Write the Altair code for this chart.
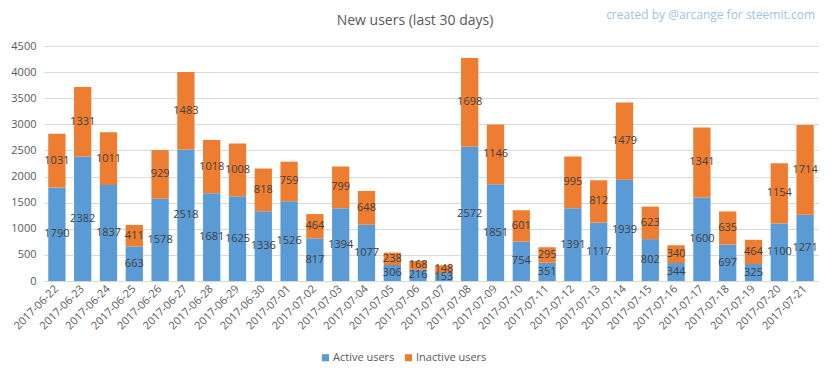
import altair as alt
import pandas as pd

dates = ["2017-06-22","2017-06-23","2017-06-24","2017-06-25","2017-06-26","2017-06-27",
         "2017-06-28","2017-06-29","2017-06-30","2017-07-01","2017-07-02","2017-07-03",
         "2017-07-04","2017-07-05","2017-07-06","2017-07-07","2017-07-08","2017-07-09",
         "2017-07-10","2017-07-11","2017-07-12","2017-07-13","2017-07-14","2017-07-15",
         "2017-07-16","2017-07-17","2017-07-18","2017-07-19","2017-07-20","2017-07-21"]
active = [1790, 2382, 1837, 663, 1578, 2518, 1681, 1625, 1336, 1526, 817, 1394,
          1077, 306, 216, 153, 2572, 1851, 754, 351, 1391, 1117, 1939, 802,
          344, 1600, 697, 325, 1100, 1271]
inactive = [1031, 1331, 1011, 411, 929, 1483, 1018, 1008, 818, 759, 464, 799,
            648, 238, 168, 148, 1698, 1146, 601, 295, 995, 812, 1479, 623,
            340, 1341, 635, 464, 1154, 1714]
series = ["Active users", "Inactive users"]
colors = ["#5b9bd5", "#ed7d31"]
y_ticks = [0, 500, 1000, 1500, 2000, 2500, 3000, 3500, 4000, 4500]

rows = []
for d, a, i in zip(dates, active, inactive):
    rows.append({"date": d, "series": series[0], "value": a, "order": 0, "mid": a / 2})
    rows.append({"date": d, "series": series[1], "value": i, "order": 1, "mid": a + i / 2})
df = pd.DataFrame(rows)

FONT = "Open Sans"
GRAY = "#595959"

x_axis = alt.Axis(labelAngle=-45, labelAlign="right", labelBaseline="middle",
                  labelFontSize=11, labelColor=GRAY, labelFont=FONT,
                  ticks=False, domainColor="#d9d9d9", labelPadding=6)
y_axis = alt.Axis(values=y_ticks, format="d", ticks=False, domain=False,
                  labelFontSize=11, labelOverlap=False, tickCount=10,
                  labelColor=GRAY, labelFont=FONT, gridColor="#d9d9d9",
                  labelPadding=8)
y_scale = alt.Scale(domain=[0, 4500], nice=False)

base = alt.Chart(df)

bars = base.mark_bar().encode(
    x=alt.X("date:N", sort=dates, title=None, scale=alt.Scale(paddingInner=0.33), axis=x_axis),
    y=alt.Y("value:Q", stack="zero", title=None, scale=y_scale, axis=y_axis),
    color=alt.Color("series:N", scale=alt.Scale(domain=series, range=colors),
                    legend=alt.Legend(title=None, orient="none", direction="horizontal",
                                      legendX=276, legendY=306, symbolType="square",
                                      symbolSize=50, symbolStrokeWidth=0,
                                      labelFontSize=11, labelColor=GRAY, labelFont=FONT,
                                      columnPadding=8, labelOffset=2)),
    order=alt.Order("order:Q"),
)

labels = base.mark_text(fontSize=11, color="#404040", font=FONT).encode(
    x=alt.X("date:N", sort=dates, title=None, axis=x_axis),
    y=alt.Y("mid:Q", title=None, scale=y_scale, axis=y_axis),
    text=alt.Text("value:Q"),
)

watermark = alt.Chart(pd.DataFrame({"t": ["created by @arcange for steemit.com"]})).mark_text(
    align="right", baseline="middle", fontSize=12, color="#9dc3e6", font=FONT
).encode(x=alt.value(771), y=alt.value(-31), text="t:N")

title = alt.Chart(pd.DataFrame({"t": ["New users (last 30 days)"]})).mark_text(
    align="center", baseline="middle", fontSize=14, color=GRAY, font=FONT
).encode(x=alt.value(371), y=alt.value(-25), text="t:N")

chart = alt.layer(bars, labels, watermark, title).properties(
    width=774, height=235,
    autosize=alt.AutoSizeParams(type="none"),
    padding={"left": 36, "top": 38, "right": 6, "bottom": 88},
).configure_view(stroke=None)

chart.save("out.html", embed_options={"renderer": "svg", "actions": False})
